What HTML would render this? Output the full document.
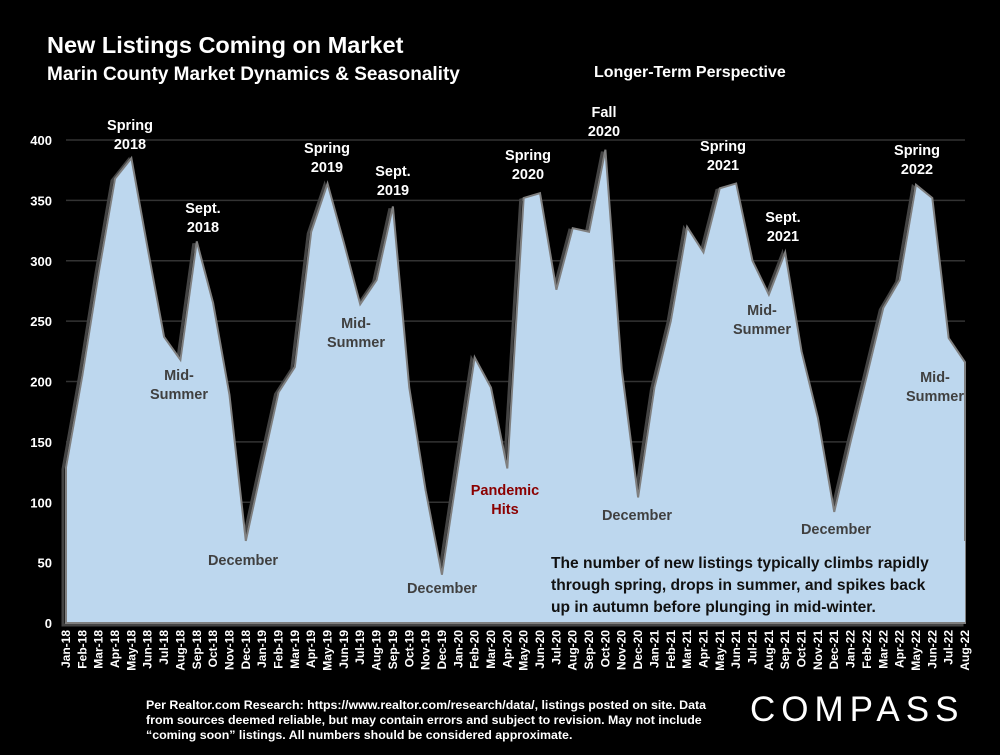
<!DOCTYPE html>
<html><head><meta charset="utf-8"><style>
body{margin:0;background:#000;width:1000px;height:750px;overflow:hidden;font-family:"Liberation Sans",sans-serif}
svg text{font-family:"Liberation Sans",sans-serif;font-weight:bold}
</style></head><body>
<svg id="c" width="1000" height="750">
<text x="47" y="53" fill="#fff" font-size="23.5">New Listings Coming on Market</text>
<text x="47" y="80" fill="#fff" font-size="19">Marin County Market Dynamics &amp; Seasonality</text>
<text x="594" y="77" fill="#fff" font-size="16">Longer-Term Perspective</text>
<g id="grid"></g><g id="area"></g><g id="xt"></g><g id="ann"></g>
<rect x="540" y="541" width="425" height="81" fill="#bdd7ee"/>
<text font-size="15.6" fill="#111"><tspan x="551" y="568">The number of new listings typically climbs rapidly</tspan><tspan x="551" y="590">through spring, drops in summer, and spikes back</tspan><tspan x="551" y="612">up in autumn before plunging in mid-winter.</tspan></text>
<text font-size="12.4" fill="#fff"><tspan x="146" y="709">Per Realtor.com Research:  https://www.realtor.com/research/data/, listings posted on site. Data</tspan><tspan x="146" y="724">from sources deemed reliable, but may contain errors and subject to revision. May not include</tspan><tspan x="146" y="739">“coming soon” listings. All numbers should be considered approximate.</tspan></text>
<text x="750" y="721" fill="#fff" font-size="35" style="font-weight:normal;letter-spacing:6px">COMPASS</text>
</svg>
<script>
const months=["Jan","Feb","Mar","Apr","May","Jun","Jul","Aug","Sep","Oct","Nov","Dec"];
const categories=[];for(let y=18;y<=22;y++)for(const m of months){if(y===22&&months.indexOf(m)>7)break;categories.push(m+"-"+y);}
const values=[129,205,290,368,385,310,237,218,316,265,189,68,130,191,212,324,364,315,264,284,345,195,110,40,130,220,195,128,352,356,276,327,324,392,210,104,195,250,328,307,360,364,300,272,307,225,170,92,150,205,261,284,363,352,236,216];
const yTicks=[0,50,100,150,200,250,300,350,400];
const x0=66,x1=965,y0=623,y1=140;
const X=i=>x0+i*(x1-x0)/(categories.length-1);
const Y=v=>y0-(v/400)*(y0-y1);
const NS="http://www.w3.org/2000/svg";
function mk(p,t,a){const e=document.createElementNS(NS,t);for(const k in a)e.setAttribute(k,a[k]);document.getElementById(p).appendChild(e);return e;}
yTicks.forEach(v=>{
 const l=mk("grid","line",{x1:x0,x2:x1,y1:Y(v),y2:Y(v),stroke:"#333","stroke-width":1.5});
 
 
 const t=mk("grid","text",{x:x0-14,y:Y(v)+5,fill:"#fff","font-size":13,"text-anchor":"end"});t.textContent=v;
 
 
});
let d="M"+X(0)+","+y0;values.forEach((v,i)=>d+=" L"+X(i)+","+Y(v));d+=" L"+X(values.length-1)+","+y0+" Z";
const sh=mk("area","path",{d:d,fill:"#000",stroke:"#444","stroke-width":3,transform:"translate(-3,2)"});


const ar=mk("area","path",{d:d,fill:"#bdd7ee",stroke:"#7f7f7f","stroke-width":2});


categories.forEach((c,i)=>{
 const t=mk("xt","text",{x:0,y:0,fill:"#fff","font-size":12,"text-anchor":"end",transform:`translate(${X(i)+4},630) rotate(-90)`});t.textContent=c;
 
 
});
const anns=[["Spring|2018",130,130,"#fff"],["Sept.|2018",203,213,"#fff"],["Mid-|Summer",179,380,"#404040"],["December",243,565,"#404040"],["Spring|2019",327,153,"#fff"],["Sept.|2019",393,176,"#fff"],["Mid-|Summer",356,328,"#404040"],["December",442,593,"#404040"],["Pandemic|Hits",505,495,"#8b0000"],["Spring|2020",528,160,"#fff"],["Fall|2020",604,117,"#fff"],["December",637,520,"#404040"],["Spring|2021",723,151,"#fff"],["Sept.|2021",783,222,"#fff"],["Mid-|Summer",762,315,"#404040"],["December",836,534,"#404040"],["Spring|2022",917,155,"#fff"],["Mid-|Summer",935,382,"#404040"]];
anns.forEach(a=>{
 const t=mk("ann","text",{fill:a[3],"font-size":14.5,"text-anchor":"middle"});
 
 
 a[0].split("|").forEach((s,k)=>{const ts=document.createElementNS(NS,"tspan");ts.setAttribute("x",a[1]);ts.setAttribute("y",a[2]+k*19);ts.textContent=s;t.appendChild(ts);});
});
</script>
</body></html>
